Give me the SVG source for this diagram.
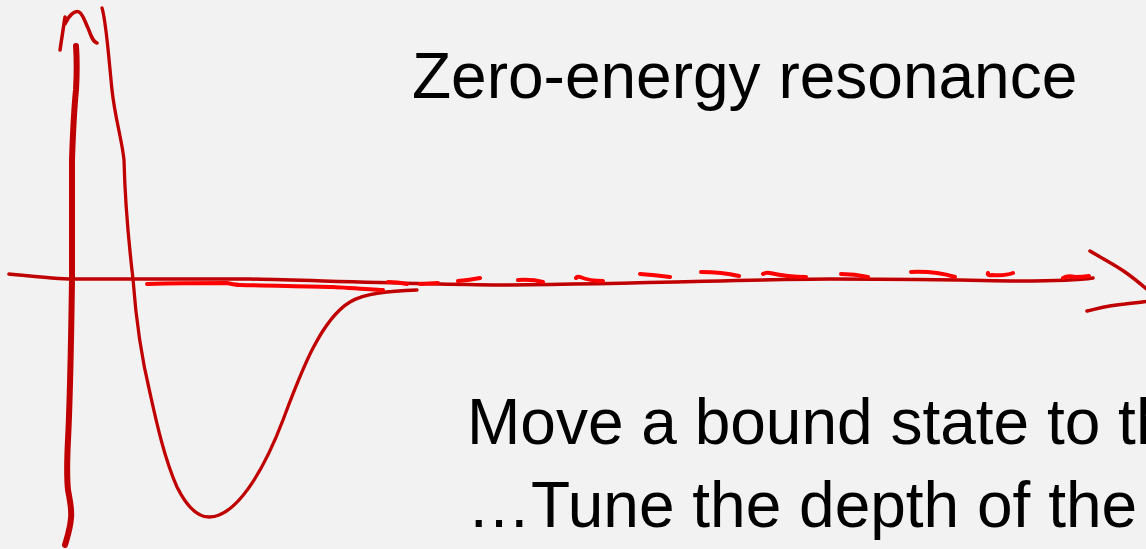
<svg xmlns="http://www.w3.org/2000/svg" width="1146" height="549" viewBox="0 0 1146 549">
<style>
.dk{fill:none;stroke:#c00000;stroke-linecap:round;stroke-linejoin:round}
.br{fill:none;stroke:#ff0000;stroke-width:4;stroke-linecap:round;stroke-linejoin:round}
.t{font-family:"Liberation Sans",Arial,sans-serif;font-size:64px;fill:#000}
</style>
<rect width="1146" height="549" fill="#f2f2f2"/>
<g id="axes">
<path class="dk" stroke-width="6" d="M76,46 C77,60 77,72 76,90 C74,110 73,130 72,160 C72,200 72,240 72,280 C71,350 69,420 68,440 C67,460 67,480 68,490 C70,500 72,510 71,518 C70,530 67,538 65,545"/>
<path class="dk" stroke-width="3.5" d="M60,50 L65,17 M65,24 C69,15 75,10 79,12 C83,14 85,22 88,28 C91,36 93,42 97,43"/>
<path class="dk" stroke-width="3.5" d="M9,274 C40,277 60,279 72,279 L250,279 C330,281 420,284 500,285 C650,284 750,279 830,279 C900,279 950,280 1020,281 C1050,281 1080,280 1093,278"/>
<path class="dk" stroke-width="3.5" d="M1090,251 C1105,260 1115,265 1125,272 C1135,279 1142,285 1150,292 M1087,311 C1100,308 1110,305 1125,304 C1135,303 1142,302 1150,301"/>
</g>
<g id="potential">
<path class="dk" stroke-width="3.3" d="M102,8 C106,20 108,50 112,90 C115,118 122,140 124,160 C125,200 129,245 133,279 C136,320 142,360 150,393 C157,425 165,460 177,487 C185,503 195,517 209,517 C235,517 262,475 283,420 C300,375 320,320 350,302 C365,293 390,291 417,290"/>
</g>
<g id="bound-state">
<path class="br" d="M147,284 C180,283 210,283 227,283 C232,284 236,285 240,285 C280,286 310,286 333,287 C350,288 370,289 383,290"/>
<path class="br" d="M388,282 Q398,282 407,284 M420,284 L438,283 M458,281 Q470,280 480,278 M518,280 Q532,279 543,282 M576,278 Q577,276 580,277 Q590,281 603,281 M640,274 Q655,275 670,277 M701,272 Q722,272 739,276 M763,274 Q766,272 770,273 Q788,277 806,277 M841,274 Q855,274 868,277 M911,272 Q935,271 955,277 M988,273 Q987,276 992,275 Q1005,276 1013,273 M1063,278 Q1068,275 1075,277 Q1083,277 1089,276"/>
</g>
<g id="labels">
<text class="t" x="412" y="98">Zero-energy resonance</text>
<text class="t" x="467" y="444">Move a bound state to the</text>
<text class="t" x="467" y="527">…Tune the depth of the</text>
</g>
</svg>
